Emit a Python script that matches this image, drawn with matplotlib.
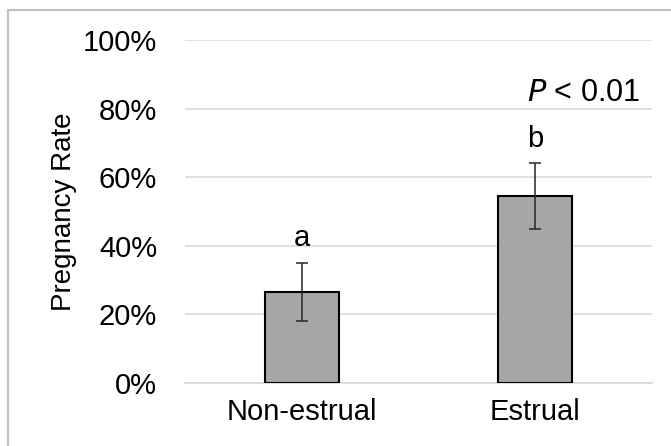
import matplotlib.pyplot as plt
from matplotlib.patches import Rectangle
from matplotlib.ticker import PercentFormatter

plt.rcParams['font.family'] = ['Liberation Sans', 'DejaVu Sans']

# taxa de prenhez por grupo (%), com erro padrão
grupos = ["Non-estrual", "Estrual"]
taxa = [26.5, 54.5]
erro = [8.5, 9.5]
letras = ["a", "b"]

fig = plt.figure(figsize=(6.71, 4.46), dpi=100)
ax = fig.add_axes([0.2757, 0.1413, 0.696, 0.769])

x = range(len(grupos))
ax.bar(x, taxa, width=0.316, color='#a6a6a6', edgecolor='black', linewidth=1.5, zorder=3)
ax.errorbar(x, taxa, yerr=erro, fmt='none', ecolor='#262626', elinewidth=1.1,
            capsize=4.5, capthick=1.1, zorder=4)

# letras de significância acima das barras
for xi, t, e, l in zip(x, taxa, erro, letras):
    ax.text(xi, t + e + 3.2, l, ha='center', va='bottom', fontsize=21)

ax.text(1.449, 84.5, r"$\it{P}$ < 0.01", ha='right', va='center', fontsize=22)

ax.set_xlim(-0.5, 1.5)
ax.set_ylim(0, 100)
ax.set_yticks(range(0, 101, 20))
ax.yaxis.set_major_formatter(PercentFormatter(decimals=0))
ax.set_xticks(list(x))
ax.set_xticklabels(grupos)
ax.tick_params(length=0, labelsize=21)
ax.tick_params(axis='x', pad=11)
ax.tick_params(axis='y', pad=20)
ax.grid(axis='y', color='#d9d9d9', linewidth=1.2, zorder=0)
for s in ['top', 'right', 'left']:
    ax.spines[s].set_visible(False)
ax.spines['bottom'].set_color('#d9d9d9')
ax.spines['bottom'].set_linewidth(1.2)
ax.set_ylabel("Pregnancy Rate", fontsize=20)
ax.yaxis.set_label_coords(-0.231, 0.5)

# moldura do gráfico
fig.patches.append(Rectangle((8 / 671, -0.1), 1.2, 1.1 - 10 / 446, transform=fig.transFigure,
                             fill=False, edgecolor='#bfbfbf', linewidth=1.5))

plt.savefig("out.png", dpi=100)
